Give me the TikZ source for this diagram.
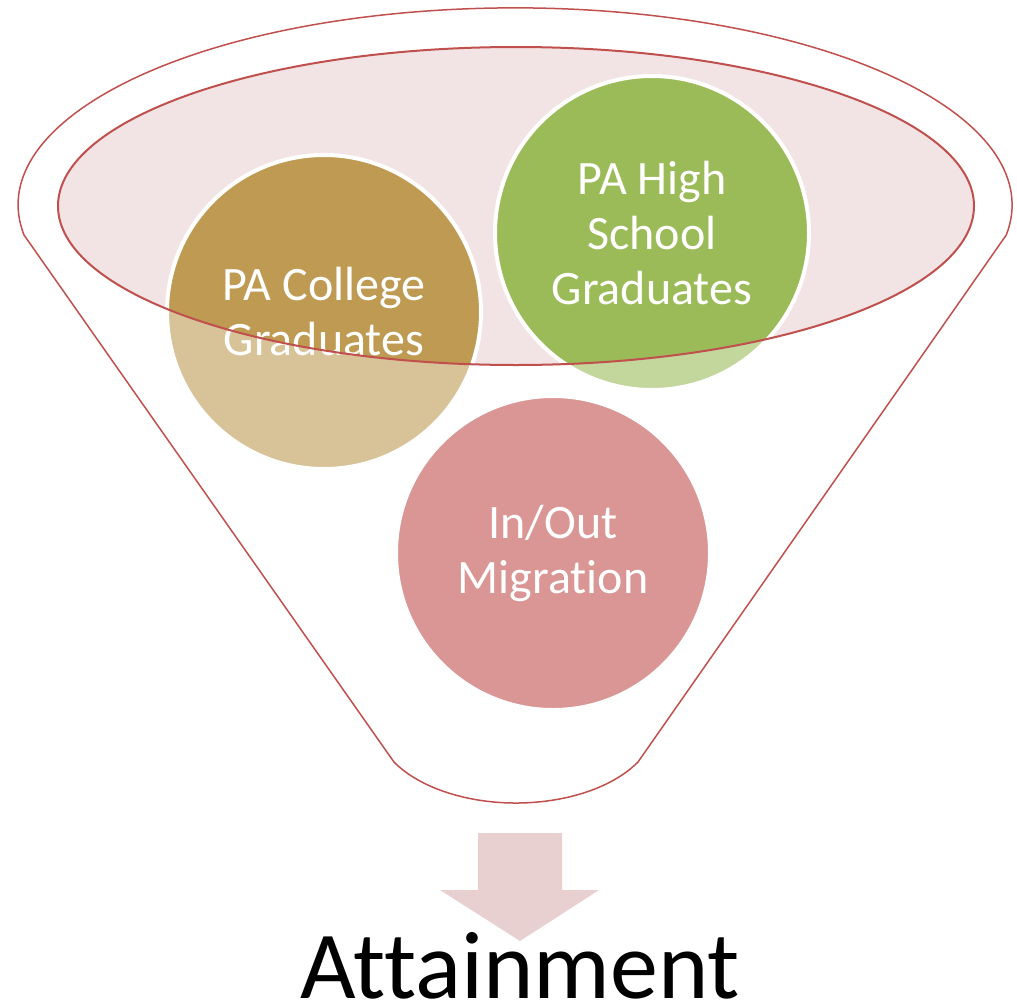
\documentclass[tikz,border=0pt]{standalone}
\usepackage{fontspec}
\setmainfont{Carlito}[Ligatures=NoCommon]
\usepackage{tikz}
\usetikzlibrary{calc}
\definecolor{funnelred}{HTML}{C0504D}
\definecolor{rimpink}{HTML}{F2E4E5}
\definecolor{goldball}{HTML}{BF9A52}
\definecolor{greenball}{HTML}{9BBB59}
\definecolor{redball}{HTML}{C0504D}
\definecolor{arrowpink}{HTML}{E8D0D1}
\tikzstyle{bubble}=[circle,draw=white,line width=4bp,minimum size=314bp,inner sep=0pt,
  text=white,align=center,font=\fontsize{48bp}{55bp}\selectfont]
\tikzstyle{rim} = [draw=funnelred,line width=2bp]

\begin{document}
\begin{tikzpicture}[x=1bp,y=-1bp]
      \useasboundingbox (0,0) rectangle (1017,1006);
      % top opening of the funnel
      \fill[rimpink] (516,206) ellipse [x radius=458,y radius=159];
      \foreach \x/\y/\col/\txt/\id in {324/312/goldball/{PA College\\Graduates}/college,
          652/233/greenball/{PA High\\School\\Graduates}/school,
          553/553/redball/{In/Out\\Migration}/migration}{
        \node[bubble,fill=\col] (\id) at (\x,\y) {\txt};
      }
      % funnel body, washes out what lies below the opening
      \path[fill=white,fill opacity=0.4,even odd rule]
        (24,235) arc [start angle=171.2,end angle=368.8,x radius=497,y radius=197]
        -- (638,762) arc [start angle=30,end angle=150,x radius=140.9,y radius=82]
        -- cycle
        (516,206) ellipse [x radius=458,y radius=159];
      \draw[rim] (516,206) ellipse [x radius=458,y radius=159];
      \draw[rim,line width=1.5bp,line join=round]
        (24,235) arc [start angle=171.2,end angle=368.8,x radius=497,y radius=197]
        -- (638,762) arc [start angle=30,end angle=150,x radius=140.9,y radius=82]
        -- cycle;
      % result
      \fill[arrowpink] (478,833) -- (562,833) -- (562,890) -- (599,890) -- (520,941)
        -- (440,890) -- (478,890) -- cycle;
      \node[anchor=base,inner sep=0pt,font=\fontsize{96bp}{110bp}\selectfont] (attain) at (520,998) {Attainment};

    \end{tikzpicture}
\end{document}
